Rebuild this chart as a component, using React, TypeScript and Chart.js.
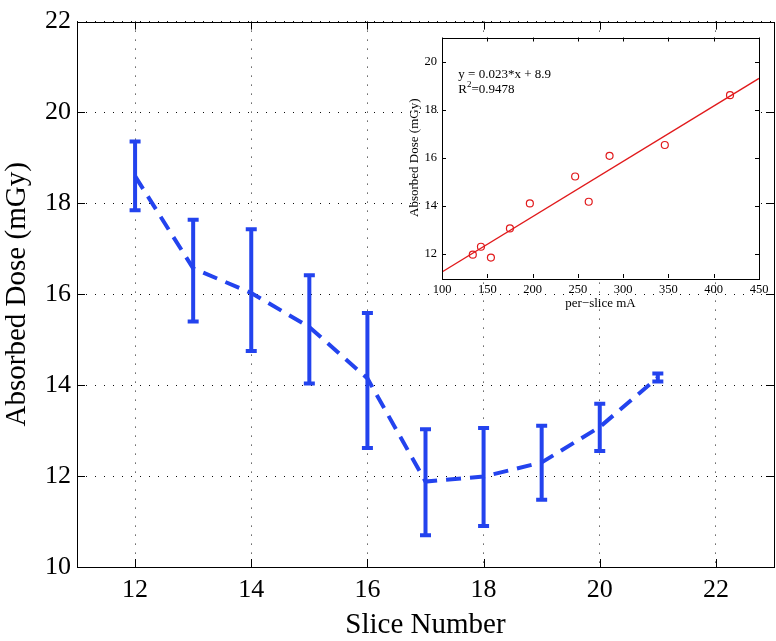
import React, { useEffect, useRef } from "react";
import { Chart, registerables } from "chart.js";

Chart.register(...registerables);

// ---- main chart data ----
const slices = [12, 13, 14, 15, 16, 17, 18, 19, 20, 21];
const dose = [18.6, 16.57, 16.03, 15.28, 14.15, 11.88, 11.99, 12.3, 13.08, 14.17];
const doseUpper = [19.36, 17.64, 17.43, 16.42, 15.59, 13.03, 13.06, 13.11, 13.59, 14.26];
const doseLower = [17.85, 15.4, 14.75, 14.04, 12.62, 10.7, 10.9, 11.48, 12.55, 14.08];
const mainXTicks = [12, 14, 16, 18, 20, 22];
const mainYTicks = [10, 12, 14, 16, 18, 20, 22];

// ---- inset data ----
const sliceMA = [134, 143, 154, 175, 197, 247, 262, 285, 346, 418];
const sliceDose = [11.97, 12.3, 11.85, 13.06, 14.1, 15.22, 14.17, 16.08, 16.53, 18.6];
const fitX = [100, 450];
const fitY = [11.25, 19.3];
const insetXTicks = [100, 150, 200, 250, 300, 350, 400, 450];
const insetYTicks = [12, 14, 16, 18, 20];
const fitText = "y = 0.023*x + 8.9";
const r2Text = "=0.9478";

const SERIF = "'Liberation Serif', 'Times New Roman', Times, serif";
const BLUE = "#2343ee";
const RED = "#e11a1c";
const GRID = "rgba(0,0,0,0.95)";

function drawFrame(chart: any, len: number, xt: number[], yt: number[]) {
  const { ctx, chartArea: a, scales } = chart;
  ctx.save();
  ctx.strokeStyle = "#000";
  ctx.lineWidth = 1;
  ctx.beginPath();
  for (const v of xt) {
    const x = Math.round(scales.x.getPixelForValue(v)) + 0.5;
    ctx.moveTo(x, a.bottom);
    ctx.lineTo(x, a.bottom - len);
    ctx.moveTo(x, a.top);
    ctx.lineTo(x, a.top + len);
  }
  for (const v of yt) {
    const y = Math.round(scales.y.getPixelForValue(v)) + 0.5;
    ctx.moveTo(a.left, y);
    ctx.lineTo(a.left + len, y);
    ctx.moveTo(a.right, y);
    ctx.lineTo(a.right - len, y);
  }
  ctx.stroke();
  ctx.strokeRect(Math.round(a.left) + 0.5, Math.round(a.top) + 0.5, Math.round(a.right - a.left), Math.round(a.bottom - a.top));
  ctx.restore();
}

const errorBarPlugin = {
  id: "errorBars",
  afterDatasetsDraw(chart: any) {
    const { ctx, scales } = chart;
    ctx.save();
    ctx.strokeStyle = BLUE;
    ctx.lineWidth = 4;
    ctx.lineCap = "butt";
    ctx.beginPath();
    slices.forEach((s, i) => {
      const x = scales.x.getPixelForValue(s);
      const yt = scales.y.getPixelForValue(doseUpper[i]);
      const yb = scales.y.getPixelForValue(doseLower[i]);
      ctx.moveTo(x, yt);
      ctx.lineTo(x, yb);
      ctx.moveTo(x - 5.5, yt);
      ctx.lineTo(x + 5.5, yt);
      ctx.moveTo(x - 5.5, yb);
      ctx.lineTo(x + 5.5, yb);
    });
    ctx.stroke();
    ctx.restore();
  },
};

const mainFramePlugin = {
  id: "mainFrame",
  afterDraw(chart: any) {
    drawFrame(chart, 8, mainXTicks, mainYTicks);
  },
};

const insetPlugin = {
  id: "insetFrame",
  beforeDraw(chart: any) {
    const { ctx, chartArea: a } = chart;
    ctx.save();
    ctx.fillStyle = "#fff";
    ctx.fillRect(a.left, a.top, a.right - a.left, a.bottom - a.top);
    ctx.restore();
  },
  afterDraw(chart: any) {
    drawFrame(chart, 4, insetXTicks, insetYTicks);
    const { ctx, scales } = chart;
    ctx.save();
    ctx.fillStyle = "#000";
    ctx.textBaseline = "alphabetic";
    ctx.textAlign = "left";
    ctx.font = `13px ${SERIF}`;
    const x0 = scales.x.getPixelForValue(118);
    ctx.fillText(fitText, x0, scales.y.getPixelForValue(19.3));
    const y2 = scales.y.getPixelForValue(18.69);
    ctx.fillText("R", x0, y2);
    const rw = ctx.measureText("R").width;
    ctx.font = `9px ${SERIF}`;
    ctx.fillText("2", x0 + rw, y2 - 6);
    const sw = ctx.measureText("2").width;
    ctx.font = `13px ${SERIF}`;
    ctx.fillText(r2Text, x0 + rw + sw, y2);
    ctx.restore();
  },
};

export default function App() {
  const mainRef = useRef<HTMLCanvasElement>(null);
  const insetRef = useRef<HTMLCanvasElement>(null);

  useEffect(() => {
    const main = new Chart(mainRef.current as HTMLCanvasElement, {
      type: "line",
      data: {
        datasets: [
          {
            data: slices.map((s, i) => ({ x: s, y: dose[i] })),
            borderColor: BLUE,
            borderWidth: 4,
            borderDash: [15, 9],
            borderCapStyle: "butt",
            pointRadius: 0,
            fill: false,
            tension: 0,
          },
        ],
      },
      options: {
        animation: false,
        responsive: false,
        maintainAspectRatio: false,
        layout: { padding: { left: 0, top: 17, right: 2, bottom: 0 } },
        plugins: { legend: { display: false }, tooltip: { enabled: false } },
        scales: {
          x: {
            type: "linear",
            min: 11,
            max: 23,
            afterBuildTicks: (s: any) => {
              s.ticks = mainXTicks.map((v) => ({ value: v }));
            },
            afterFit: (s: any) => {
              s.height = 74;
            },
            grid: { color: GRID, lineWidth: 1, drawTicks: false },
            border: { display: false, dash: [1, 8] },
            ticks: { font: { family: SERIF, size: 26 }, color: "#000", padding: 8, maxRotation: 0, autoSkip: false },
            title: {
              display: true,
              text: "Slice Number",
              font: { family: SERIF, size: 29, lineHeight: 1 },
              color: "#000",
              padding: { top: 0, bottom: 1 },
            },
          },
          y: {
            type: "linear",
            min: 10,
            max: 22,
            afterBuildTicks: (s: any) => {
              s.ticks = mainYTicks.map((v) => ({ value: v }));
            },
            afterFit: (s: any) => {
              s.width = 77;
            },
            grid: { color: GRID, lineWidth: 1, drawTicks: false },
            border: { display: false, dash: [1, 8] },
            ticks: { font: { family: SERIF, size: 26 }, color: "#000", padding: 6, autoSkip: false },
            title: {
              display: true,
              text: "Absorbed Dose (mGy)",
              font: { family: SERIF, size: 29, lineHeight: 1 },
              color: "#000",
              padding: { top: 3, bottom: 0 },
            },
          },
        },
      },
      plugins: [errorBarPlugin, mainFramePlugin],
    } as any);

    const inset = new Chart(insetRef.current as HTMLCanvasElement, {
      type: "scatter",
      data: {
        datasets: [
          {
            data: sliceMA.map((m, i) => ({ x: m, y: sliceDose[i] })),
            borderColor: RED,
            backgroundColor: "rgba(0,0,0,0)",
            borderWidth: 1.2,
            pointRadius: 3.5,
            pointStyle: "circle",
            showLine: false,
          },
          {
            data: fitX.map((x, i) => ({ x, y: fitY[i] })),
            borderColor: RED,
            borderWidth: 1.3,
            pointRadius: 0,
            showLine: true,
            fill: false,
          },
        ],
      },
      options: {
        animation: false,
        responsive: false,
        maintainAspectRatio: false,
        layout: { padding: { left: 0, top: 7, right: 17, bottom: 0 } },
        plugins: { legend: { display: false }, tooltip: { enabled: false } },
        scales: {
          x: {
            type: "linear",
            min: 100,
            max: 450,
            afterBuildTicks: (s: any) => {
              s.ticks = insetXTicks.map((v) => ({ value: v }));
            },
            afterFit: (s: any) => {
              s.height = 37;
            },
            grid: { display: false, drawTicks: false },
            border: { display: false },
            ticks: { font: { family: SERIF, size: 12.5 }, color: "#000", padding: 4, maxRotation: 0, autoSkip: false },
            title: {
              display: true,
              text: "per\u2212slice mA",
              font: { family: SERIF, size: 13, lineHeight: 1 },
              color: "#000",
              padding: { top: 0, bottom: 5 },
            },
          },
          y: {
            type: "linear",
            min: 11,
            max: 21,
            afterBuildTicks: (s: any) => {
              s.ticks = insetYTicks.map((v) => ({ value: v }));
            },
            afterFit: (s: any) => {
              s.width = 47;
            },
            grid: { display: false, drawTicks: false },
            border: { display: false },
            ticks: { font: { family: SERIF, size: 12.5 }, color: "#000", padding: 5, autoSkip: false },
            title: {
              display: true,
              text: "Absorbed Dose (mGy)",
              font: { family: SERIF, size: 13, lineHeight: 1 },
              color: "#000",
              padding: { top: 13, bottom: 0 },
            },
          },
        },
      },
      plugins: [insetPlugin],
    } as any);

    return () => {
      main.destroy();
      inset.destroy();
    };
  }, []);

  return (
    <div style={{ position: "absolute", left: 0, top: 0, width: 776, height: 641, background: "#fff" }}>
      <canvas ref={mainRef} width={776} height={641} style={{ position: "absolute", left: 0, top: 0, width: 776, height: 641 }} />
      <canvas ref={insetRef} width={381} height={290} style={{ position: "absolute", left: 395, top: 25, width: 381, height: 290 }} />
    </div>
  );
}
